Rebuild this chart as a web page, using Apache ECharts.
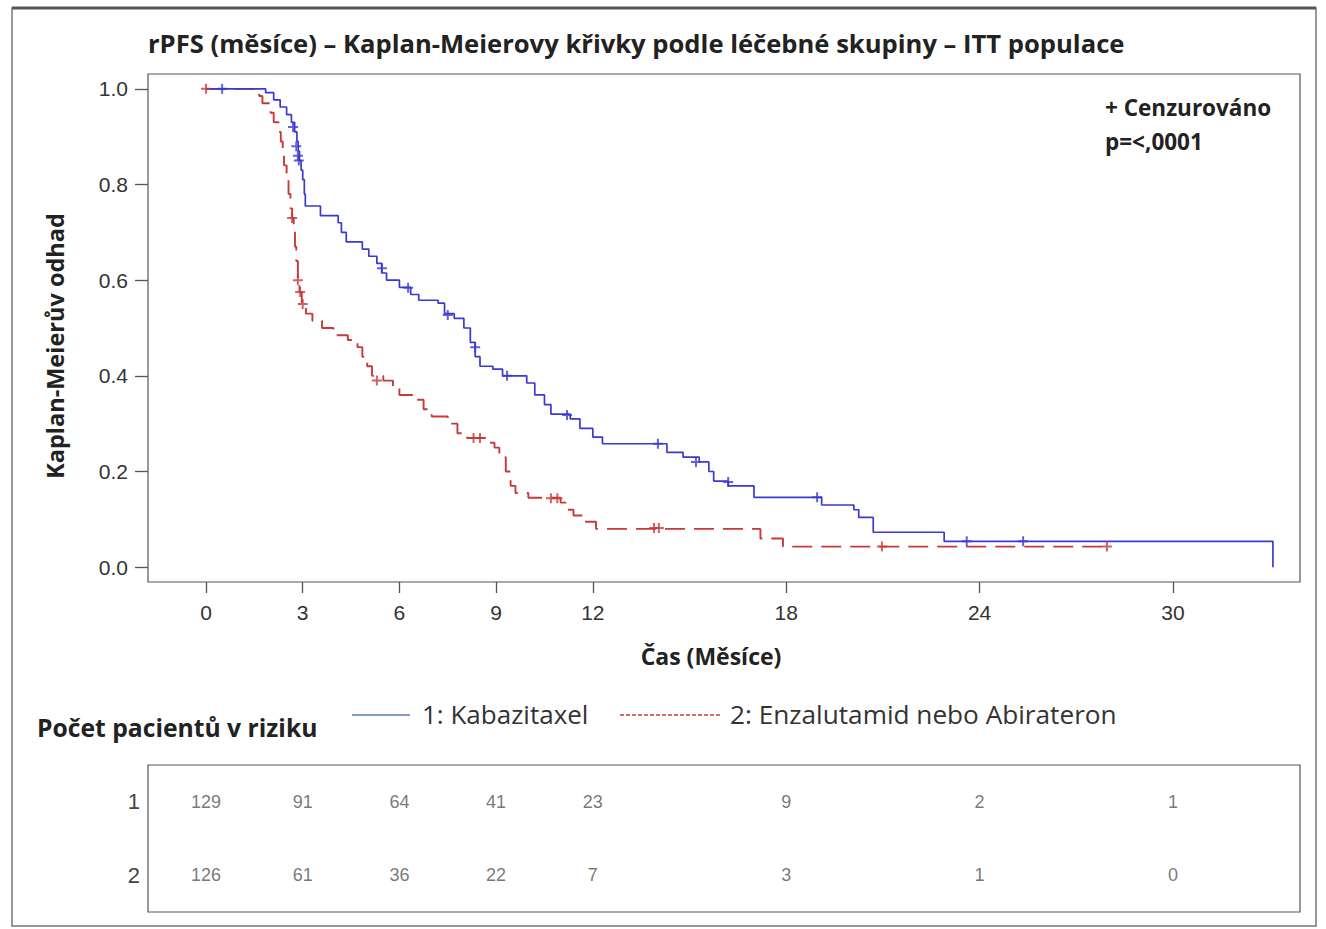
<!DOCTYPE html>
<html>
<head>
<meta charset="utf-8">
<script src="https://cdn.jsdelivr.net/npm/echarts@6/dist/echarts.min.js"></script>
<style>
html,body{margin:0;padding:0;background:#fff;}
#chart{width:1326px;height:929px;}
</style>
</head>
<body>
<div id="chart"></div>
<script>
// ---- Data ----
const titleText = 'rPFS (měsíce) – Kaplan-Meierovy křivky podle léčebné skupiny – ITT populace';
const yAxisTitle = 'Kaplan-Meierův odhad';
const xAxisTitle = 'Čas (Měsíce)';
const seriesNames = ['1: Kabazitaxel', '2: Enzalutamid nebo Abirateron'];
const xTickValues = [0, 3, 6, 9, 12, 18, 24, 30];
const yTickValues = [0, 0.2, 0.4, 0.6, 0.8, 1.0];

// Kaplan-Meier step points [months, survival]
const kmKabazitaxel = [
  [0,1.0],[1.85,0.992],[2.1,0.977],[2.3,0.962],[2.5,0.946],[2.65,0.93],[2.75,0.91],[2.82,0.89],
  [2.86,0.87],[2.9,0.85],[2.95,0.83],[3.0,0.81],[3.05,0.78],[3.08,0.755],[3.55,0.735],[4.1,0.72],
  [4.2,0.70],[4.35,0.68],[4.85,0.665],[5.05,0.65],[5.3,0.635],[5.45,0.615],[5.6,0.60],[6.0,0.585],
  [6.35,0.57],[6.6,0.558],[7.2,0.552],[7.4,0.53],[7.7,0.52],[8.0,0.50],[8.2,0.47],[8.35,0.44],
  [8.5,0.42],[8.9,0.414],[9.2,0.40],[9.95,0.385],[10.2,0.36],[10.5,0.34],[10.7,0.32],[11.3,0.31],
  [11.6,0.29],[12.0,0.272],[12.3,0.258],[14.3,0.24],[14.8,0.23],[15.3,0.22],[15.6,0.20],[15.75,0.18],
  [16.2,0.17],[17.0,0.146],[19.1,0.13],[20.1,0.12],[20.25,0.104],[20.7,0.073],[22.9,0.054],[33.1,0.054],[33.1,0.0]
];
const kmEnzaAbi = [
  [0,1.0],[1.65,0.985],[1.75,0.97],[2.0,0.95],[2.1,0.93],[2.25,0.91],[2.32,0.89],[2.38,0.865],
  [2.42,0.84],[2.5,0.81],[2.56,0.78],[2.62,0.75],[2.67,0.73],[2.72,0.70],[2.76,0.67],[2.8,0.64],
  [2.85,0.60],[2.9,0.575],[2.97,0.55],[3.1,0.53],[3.3,0.515],[3.6,0.50],[3.95,0.485],[4.4,0.475],
  [4.7,0.46],[4.85,0.44],[5.0,0.42],[5.15,0.40],[5.5,0.39],[5.8,0.375],[6.0,0.36],[6.5,0.35],
  [6.75,0.33],[7.0,0.315],[7.5,0.30],[7.8,0.28],[8.1,0.27],[8.7,0.26],[8.95,0.25],[9.1,0.23],
  [9.3,0.20],[9.45,0.17],[9.6,0.155],[10.0,0.145],[11.0,0.135],[11.2,0.12],[11.4,0.108],[11.7,0.095],
  [12.1,0.08],[17.2,0.06],[17.9,0.043],[27.95,0.043]
];
// Censored observations [months, survival]
const censKabazitaxel = [
  [0.5,1.0],[2.7,0.92],[2.8,0.88],[2.85,0.86],[2.88,0.85],[5.46,0.625],[6.27,0.584],[7.5,0.527],
  [8.35,0.46],[9.34,0.40],[11.2,0.318],[14.02,0.258],[15.2,0.22],[16.2,0.178],[18.96,0.146],
  [23.6,0.054],[25.35,0.054]
];
const censEnzaAbi = [
  [0,1.0],[2.67,0.73],[2.85,0.60],[2.92,0.575],[3.0,0.55],[5.3,0.39],[8.3,0.27],[8.5,0.27],
  [10.7,0.144],[10.9,0.144],[13.9,0.082],[14.05,0.082],[20.97,0.043],[27.95,0.043]
];
// Number at risk
const riskTimes = [0, 3, 6, 9, 12, 18, 24, 30];
const riskRows = ['1', '2'];
const riskKabazitaxel = [129, 91, 64, 41, 23, 9, 2, 1];
const riskEnzaAbi = [126, 61, 36, 22, 7, 3, 1, 0];

// ---- Styles ----
const BLUE = '#3a3ad2';
const RED = '#c83a3a';
const TXT = '#222';
const FONT = '"Open Sans", "Liberation Sans", sans-serif';
const AFONT = '"Liberation Sans", Arial, sans-serif';
const plusPath = 'path://M4,0h2v4h4v2h-4v4h-2v-4h-4v-2h4z';

const riskData = [];
riskTimes.forEach((t, i) => {
  riskData.push([t, riskRows[0], riskKabazitaxel[i]]);
  riskData.push([t, riskRows[1], riskEnzaAbi[i]]);
});

const chart = echarts.init(document.getElementById('chart'), null, {renderer: 'svg'});
const option = {
  animation: false,
  backgroundColor: '#fff',
  grid: [
    {left: 148, top: 74, width: 1152, height: 508, show: true, borderColor: '#555', borderWidth: 1.2, backgroundColor: 'transparent'},
    {left: 148, top: 765, width: 1152, height: 147, show: true, borderColor: '#555', borderWidth: 1.2, backgroundColor: 'transparent'}
  ],
  xAxis: [
    {
      type: 'value', gridIndex: 0, min: -1.8, max: 33.94, position: 'bottom',
      axisLine: {show: false, onZero: false}, splitLine: {show: false},
      axisTick: {show: true, inside: false, customValues: xTickValues, length: 11, lineStyle: {color: '#555', width: 1.3}},
      axisLabel: {customValues: xTickValues, margin: 20, fontFamily: AFONT, fontSize: 21, color: '#333'}
    },
    {
      type: 'value', gridIndex: 1, min: -1.8, max: 33.94,
      axisLine: {show: false, onZero: false}, splitLine: {show: false}, axisTick: {show: false}, axisLabel: {show: false}
    }
  ],
  yAxis: [
    {
      type: 'value', gridIndex: 0, min: -0.031, max: 1.031, position: 'left',
      axisLine: {show: false, onZero: false}, splitLine: {show: false},
      axisTick: {show: true, inside: false, customValues: yTickValues, length: 13, lineStyle: {color: '#555', width: 1.3}},
      axisLabel: {customValues: yTickValues, formatter: v => v.toFixed(1), margin: 20, fontFamily: AFONT, fontSize: 21, color: '#333'}
    },
    {
      type: 'category', gridIndex: 1, data: riskRows, inverse: true,
      axisLine: {show: false, onZero: false}, splitLine: {show: false}, axisTick: {show: false},
      axisLabel: {margin: 8, fontFamily: AFONT, fontSize: 22, color: '#444'}
    }
  ],
  series: [
    {
      name: seriesNames[0], type: 'line', xAxisIndex: 0, yAxisIndex: 0, step: 'end',
      data: kmKabazitaxel, showSymbol: false, symbol: 'none',
      lineStyle: {color: BLUE, width: 1.7}, z: 3
    },
    {
      name: seriesNames[1], type: 'line', xAxisIndex: 0, yAxisIndex: 0, step: 'end',
      data: kmEnzaAbi, showSymbol: false, symbol: 'none',
      lineStyle: {color: RED, width: 1.9, type: [20, 9]}, z: 2
    },
    {
      type: 'scatter', xAxisIndex: 0, yAxisIndex: 0, data: censKabazitaxel,
      symbol: plusPath, symbolSize: 10, itemStyle: {color: BLUE}, z: 4
    },
    {
      type: 'scatter', xAxisIndex: 0, yAxisIndex: 0, data: censEnzaAbi,
      symbol: plusPath, symbolSize: 10, itemStyle: {color: RED}, z: 4
    },
    {
      type: 'scatter', xAxisIndex: 1, yAxisIndex: 1, data: riskData,
      symbolSize: 0, itemStyle: {color: 'transparent'},
      label: {show: true, position: 'inside', formatter: p => String(p.value[2]),
              fontFamily: AFONT, fontSize: 18, color: '#555'}
    }
  ],
  graphic: [
    {type: 'rect', shape: {x: 12, y: 8, width: 1304, height: 918}, style: {fill: 'none', stroke: '#777', lineWidth: 1.5}, silent: true},
    {type: 'line', shape: {x1: 12, y1: 8, x2: 1316, y2: 8}, style: {stroke: '#555', lineWidth: 3}, silent: true},
    {type: 'text', x: 148, y: 43, style: {text: titleText, font: 'bold 25.6px ' + FONT, fill: TXT, textAlign: 'left', textVerticalAlign: 'middle'}},
    {type: 'text', x: 55, y: 346, rotation: Math.PI / 2, style: {text: yAxisTitle, font: 'bold 23.5px ' + FONT, fill: TXT, textAlign: 'center', textVerticalAlign: 'middle'}},
    {type: 'text', x: 711, y: 656, style: {text: xAxisTitle, font: 'bold 23px ' + FONT, fill: TXT, textAlign: 'center', textVerticalAlign: 'middle'}},
    {type: 'text', x: 1105, y: 107, style: {text: '+ Cenzurováno', font: 'bold 22.5px ' + FONT, fill: TXT, textAlign: 'left', textVerticalAlign: 'middle'}},
    {type: 'text', x: 1105, y: 141, style: {text: 'p=<,0001', font: 'bold 22.5px ' + FONT, fill: TXT, textAlign: 'left', textVerticalAlign: 'middle'}},
    {type: 'text', x: 37, y: 727, style: {text: 'Počet pacientů v riziku', font: 'bold 24.7px ' + FONT, fill: TXT, textAlign: 'left', textVerticalAlign: 'middle'}},
    {type: 'line', shape: {x1: 352, y1: 715, x2: 410, y2: 715}, style: {stroke: '#5a78b0', lineWidth: 1.5}},
    {type: 'text', x: 422, y: 714, style: {text: seriesNames[0], font: '26px ' + FONT, fill: '#333', textAlign: 'left', textVerticalAlign: 'middle'}},
    {type: 'line', shape: {x1: 620, y1: 715, x2: 720, y2: 715}, style: {stroke: RED, lineWidth: 1.5, lineDash: [4, 2]}},
    {type: 'text', x: 730, y: 714, style: {text: seriesNames[1], font: '26.2px ' + FONT, fill: '#333', textAlign: 'left', textVerticalAlign: 'middle'}}
  ]
};
chart.setOption(option);
</script>
</body>
</html>
